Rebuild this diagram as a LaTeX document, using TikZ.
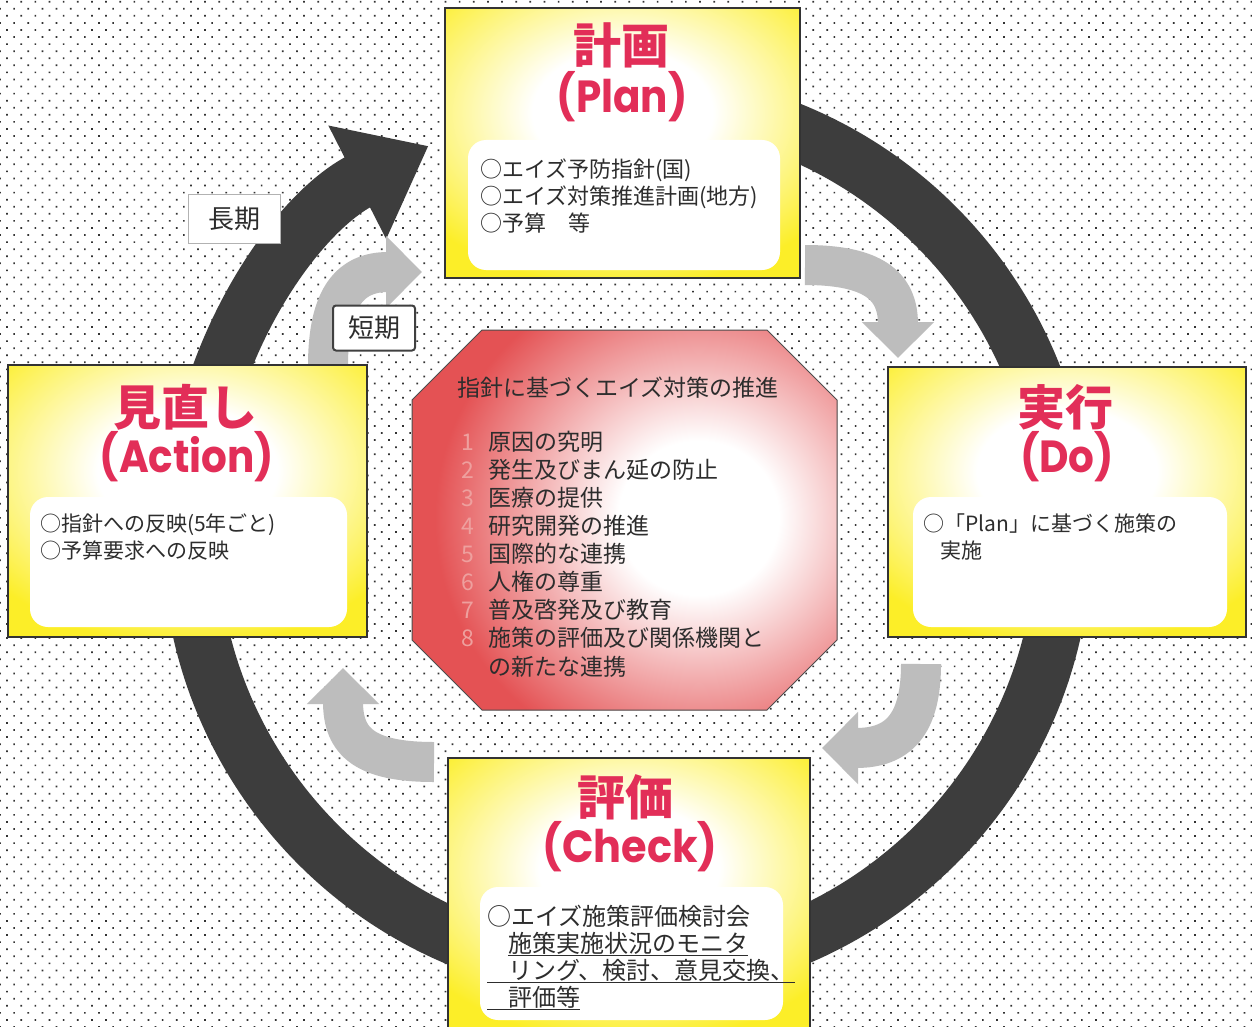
\documentclass[tikz,border=0pt]{standalone}
\usepackage{graphicx}
\usepackage{fontspec}
\setmainfont{Noto Sans CJK JP}
\newfontfamily\pdcafont{Poppins}
\usetikzlibrary{arrows.meta,patterns.meta}

\definecolor{pdcayellow}{RGB}{252,238,40}
\definecolor{pdcared}{RGB}{226,46,88}
\definecolor{octred}{RGB}{228,82,84}
\definecolor{inktext}{RGB}{45,45,45}
\definecolor{numpink}{RGB}{238,160,158}

\pgfdeclareradialshading{boxglow}{\pgfpoint{0bp}{0bp}}{color(0bp)=(white); color(9bp)=(white); color(25bp)=(pdcayellow); color(50bp)=(pdcayellow)}
\pgfdeclareradialshading{octglow}{\pgfpoint{0bp}{0bp}}{color(0bp)=(white); color(7bp)=(white); color(23bp)=(octred); color(50bp)=(octred)}

\tikzset{
  stagebox/.style = {draw = black!80, line width = 1.2pt, fill = pdcayellow, inner sep = 0pt,
    path picture = {\shade[shading = boxglow]
      ([yshift = 30pt]path picture bounding box.center) ellipse [x radius = 250pt, y radius = 175pt];}},
  notebox/.style = {fill = white, rounded corners = 18pt, inner sep = 0pt},
  jptitle/.style = {text = pdcared, font = \fontsize{48}{48}\selectfont\bfseries, inner sep = 0pt},
  entitle/.style = {text = pdcared, font = \pdcafont\fontsize{45}{45}\selectfont\bfseries, inner sep = 0pt},
  notetext/.style = {text = inktext, font = \fontsize{22}{27}\selectfont, align = left,
    inner sep = 0pt, anchor = base west},
  octtext/.style = {text = inktext, font = \fontsize{23}{28}\selectfont, inner sep = 0pt, anchor = base west},
  ring/.style = {draw = black!76, line width = 56pt, -{Triangle[length = 80pt, width = 122pt]}},
  shortflow/.style = {draw = black!26, line width = 40pt, -{Triangle[length = 36pt, width = 70pt]}},
  termlabel/.style = {fill = white, text = inktext, font = \fontsize{26}{26}\selectfont, inner sep = 0pt}
}

\begin{document}
\begin{tikzpicture}[x = 1pt, y = -1pt]
  \clip (0, 0) rectangle (1252, 1027);

  % dotted paper
  \fill[white] (0, 0) rectangle (1252, 1027);
  \fill[pattern = {Dots[distance = 10pt, angle = 45, radius = 1.2pt]}, pattern color = black!80]
    (0, 0) rectangle (1252, 1027);

  % long term cycle
  \coordinate (ringstart) at (665, 100);
  \draw[ring] (ringstart) arc [start angle = -85, end angle = 243, radius = 437];

  % short term cycle
  \coordinate (s1a) at (328, 366);
  \coordinate (s1b) at (422, 272);
  \coordinate (s2a) at (805, 265);
  \coordinate (s2b) at (898, 358);
  \coordinate (s3a) at (921, 664);
  \coordinate (s3b) at (822, 748);
  \coordinate (s4a) at (434, 762);
  \coordinate (s4b) at (343, 668);
  \draw[shortflow] (s1a) .. controls (328, 295) and (352, 272) .. (s1b);
  \draw[shortflow] (s2a) .. controls (872, 265) and (898, 285) .. (s2b);
  \draw[shortflow] (s3a) .. controls (921, 725) and (898, 748) .. (s3b);
  \draw[shortflow] (s4a) .. controls (365, 762) and (343, 742) .. (s4b);

  % four stages
  \node[stagebox, minimum width = 355pt, minimum height = 270pt] (plan) at (622.5, 143) {};
  \node[stagebox, minimum width = 359pt, minimum height = 272pt] (act) at (187.5, 501) {};
  \node[stagebox, minimum width = 358pt, minimum height = 270pt] (do) at (1067, 502) {};
  \node[stagebox, minimum width = 362pt, minimum height = 282pt] (chk) at (629, 899) {};

  \node[notebox, minimum width = 312pt, minimum height = 130pt] (plannote) at (624, 205) {};
  \node[notebox, minimum width = 317pt, minimum height = 130pt] (actnote) at (188.5, 562) {};
  \node[notebox, minimum width = 314pt, minimum height = 130pt] (donote) at (1070, 562) {};
  \node[notebox, minimum width = 303pt, minimum height = 133pt] (chknote) at (631.5, 953.5) {};

  \node[jptitle] (planjp) at (621, 45) {計画};
  \node[entitle] (planen) at (622, 97) {\scalebox{0.9}[1]{(Plan)}};
  \node[jptitle] (actjp) at (185, 407) {見直し};
  \node[entitle] (acten) at (187, 457) {\scalebox{0.9}[1]{(Action)}};
  \node[jptitle] (dojp) at (1065, 407) {実行};
  \node[entitle] (doen) at (1067, 457) {\scalebox{0.9}[1]{(Do)}};
  \node[jptitle] (chkjp) at (625, 797) {評価};
  \node[entitle] (chken) at (630, 847) {\scalebox{0.92}[1]{(Check)}};

  % the base anchor sits on the last line
  \node[notetext] (plantext) at (480, 231)
    {○エイズ予防指針(国)\\○エイズ対策推進計画(地方)\\○予算　等};
  \node[notetext, font = \fontsize{21}{27}\selectfont] (acttext) at (40, 558)
    {○指針への反映(5年ごと)\\○予算要求への反映};
  \node[notetext, font = \fontsize{21}{27}\selectfont] (dotext) at (923, 558)
    {○「Plan」に基づく施策の\\\hspace*{17pt}実施};
  \node[notetext, font = \fontsize{24}{27}\selectfont] (chktext) at (487, 1006)
    {○エイズ施策評価検討会\\
     \hspace*{21pt}\underline{施策実施状況のモニタ}\\
     \underline{\hspace*{21pt}リング、検討、意見交換、}\\
     \underline{\hspace*{21pt}評価等}};

  % centre: measures based on the guideline
  \path[draw = black!70, line width = 1pt, fill = octred,
        path picture = {\shade[shading = octglow] (700, 518) ellipse [x radius = 285pt, y radius = 275pt];}]
    (482, 330) -- (767, 330) -- (837, 400) -- (837, 640) -- (767, 710)
    -- (482, 710) -- (412, 640) -- (412, 400) -- cycle;

  \node[octtext] (octtitle) at (457, 396) {指針に基づくエイズ対策の推進};
  \foreach \n/\item in {1/原因の究明, 2/発生及びまん延の防止, 3/医療の提供, 4/研究開発の推進,
      5/国際的な連携, 6/人権の尊重, 7/普及啓発及び教育, 8/施策の評価及び関係機関と} {
    \node[octtext, text = numpink] (num\n) at (461, {450 + 28.1 * (\n - 1)}) {\n};
    \node[octtext] (item\n) at (488, {450 + 28.1 * (\n - 1)}) {\item};
  }
  \node[octtext] (item8b) at (488, 675) {の新たな連携};

  % term labels
  \node[termlabel, draw = black!30, line width = 1pt, minimum width = 92pt, minimum height = 48pt]
    (long) at (234, 219) {長期};
  \node[termlabel, draw = black!75, line width = 2pt, rounded corners = 3pt,
        minimum width = 82pt, minimum height = 45pt] (short) at (374, 328) {短期};
\end{tikzpicture}
\end{document}
